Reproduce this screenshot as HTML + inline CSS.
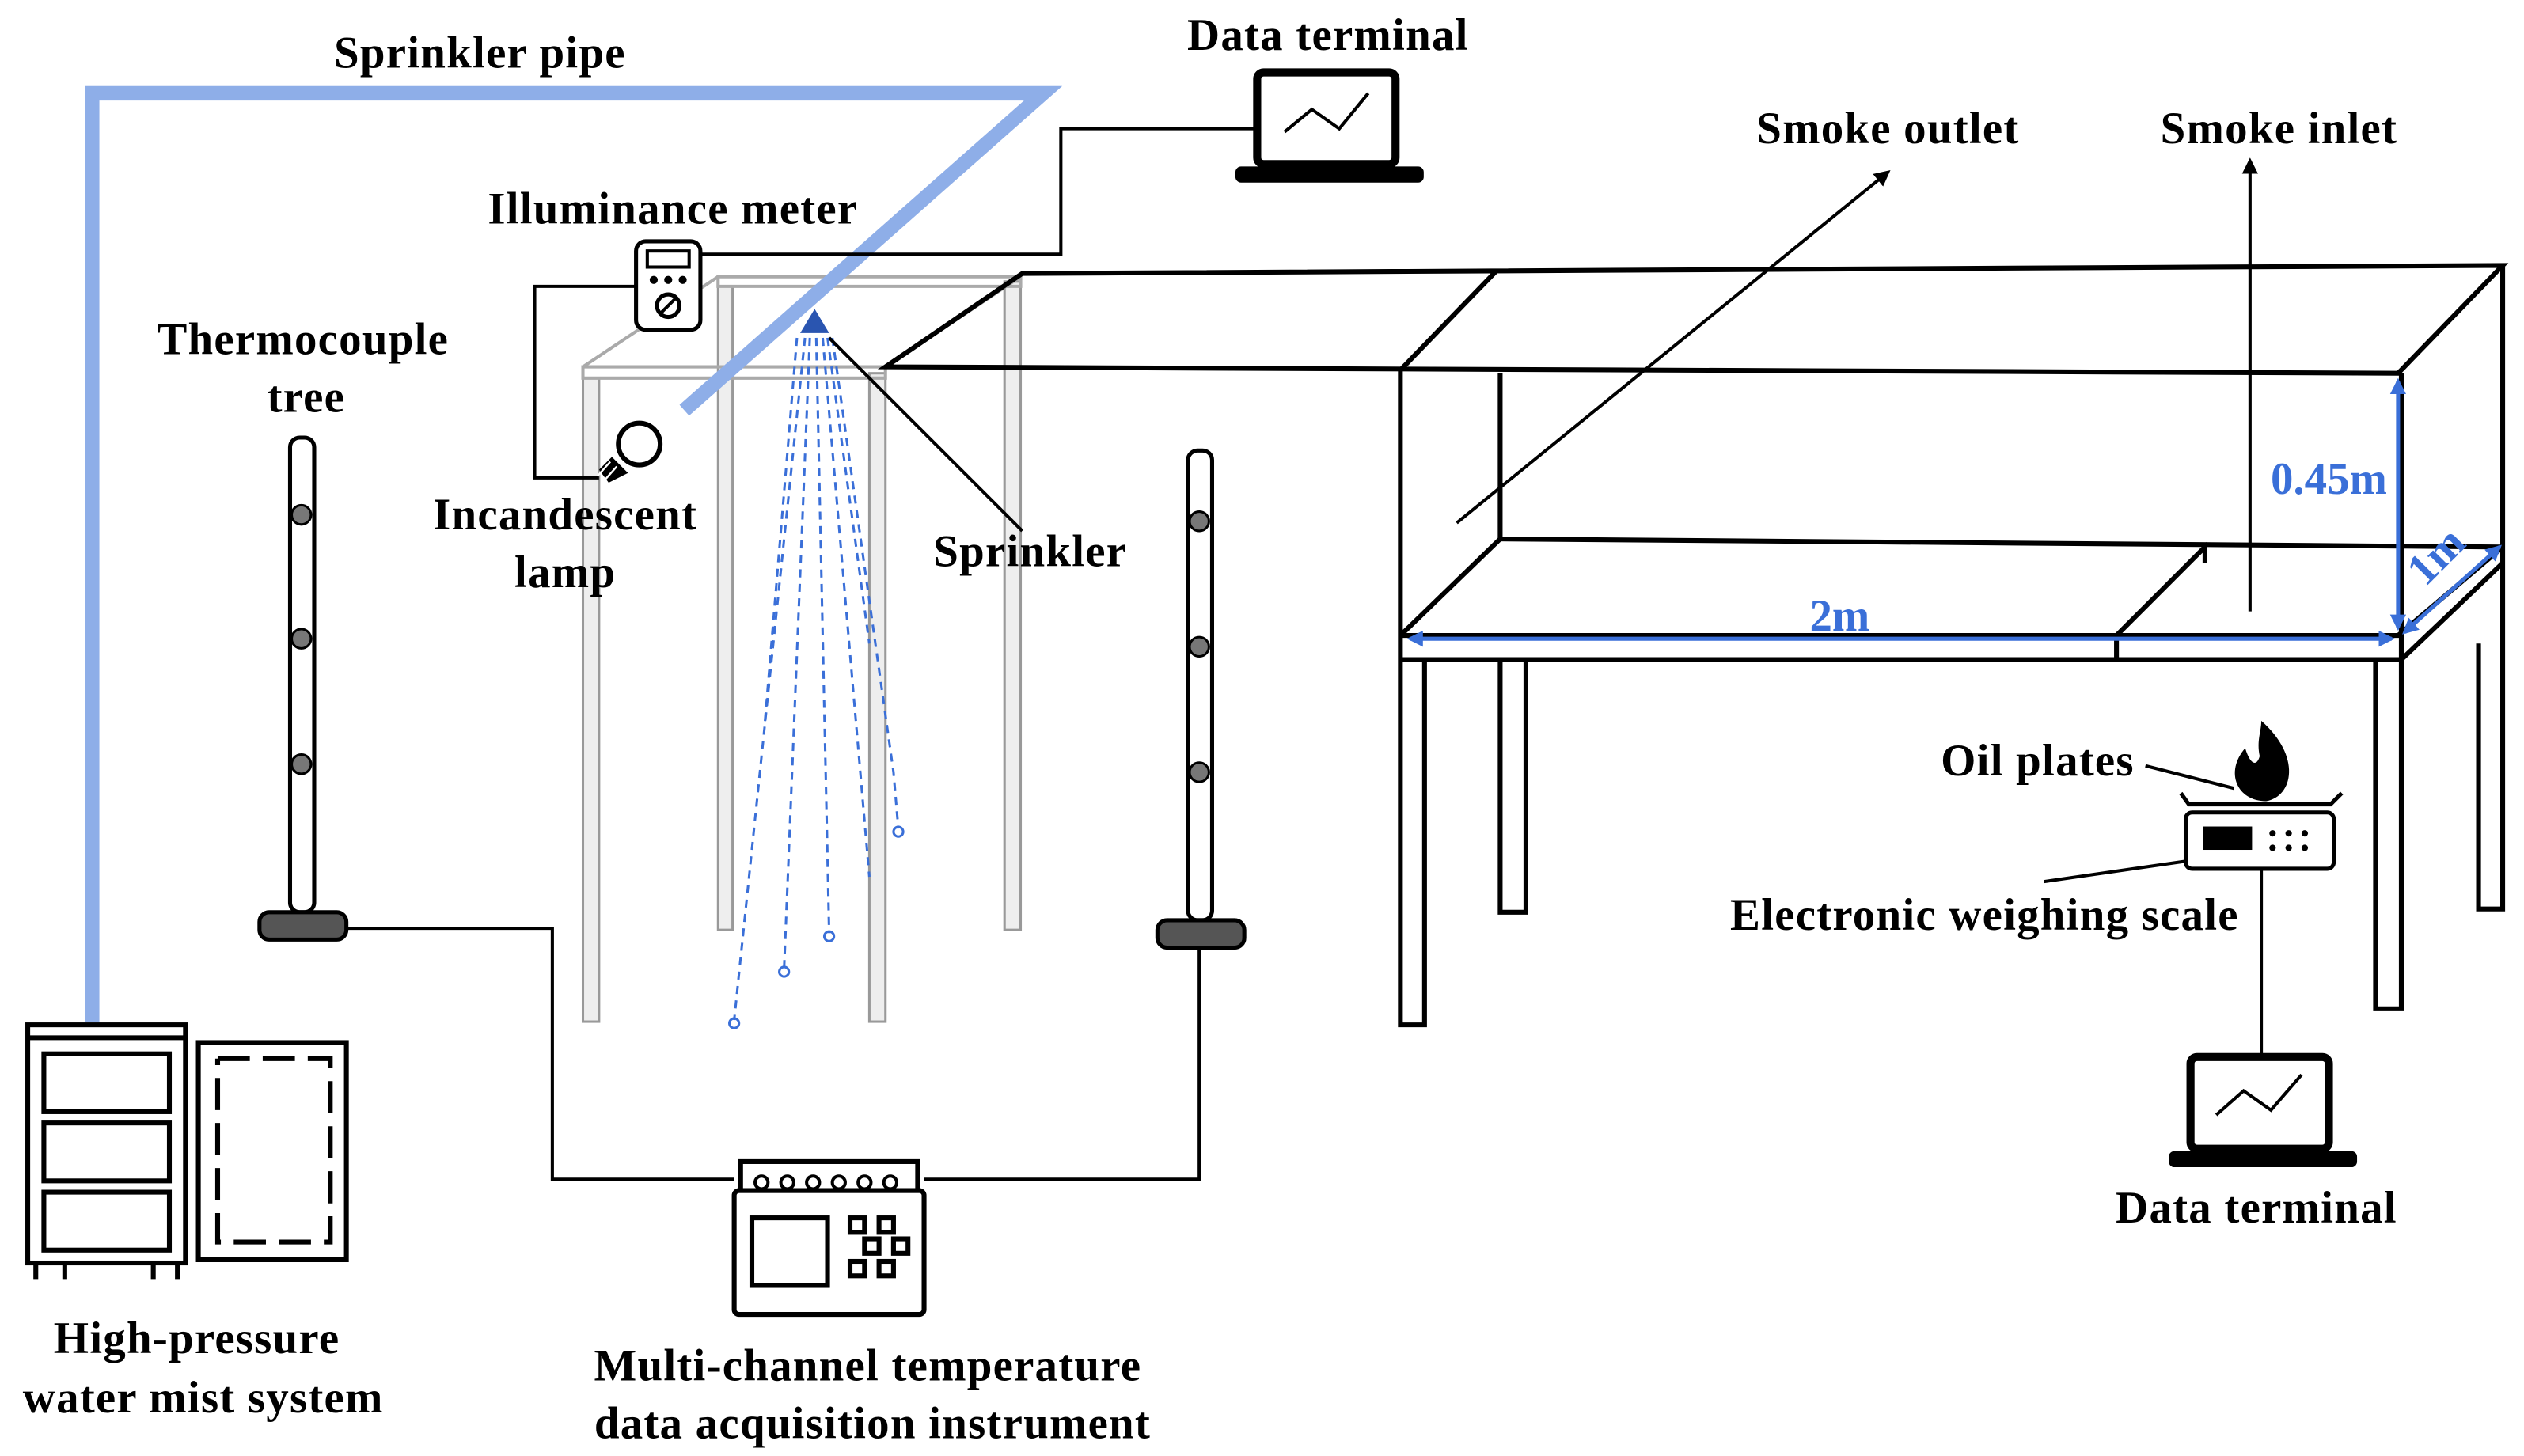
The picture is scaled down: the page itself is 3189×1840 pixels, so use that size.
<!DOCTYPE html>
<html><head><meta charset="utf-8"><style>
html,body{margin:0;padding:0;background:#fff;}
svg{display:block;}
text{font-family:"Liberation Serif",serif;font-weight:bold;font-size:28px;letter-spacing:0.6px;fill:#000;text-anchor:middle;}
.b{fill:#3a6fd8;letter-spacing:0;}
</style></head><body>
<svg width="3189" height="1840" viewBox="0 0 1568 905" xmlns="http://www.w3.org/2000/svg">
<defs>
<marker id="ak" markerWidth="10" markerHeight="10" refX="8" refY="5" orient="auto" markerUnits="userSpaceOnUse"><path d="M0,0 L10,5 L0,10 z" fill="#000"/></marker>
<marker id="ab" markerWidth="10" markerHeight="10" refX="8" refY="5" orient="auto-start-reverse" markerUnits="userSpaceOnUse"><path d="M0,0 L10,5 L0,10 z" fill="#3a6fd8"/></marker>
</defs>
<g fill="#eee" stroke="#999" stroke-width="1.5">
<rect x="446" y="178" width="9" height="400"/>
<rect x="624" y="175" width="10" height="403"/>
<rect x="362" y="235" width="10" height="400"/>
<rect x="540" y="232" width="10" height="403"/>
</g>
<g fill="none" stroke="#aaa" stroke-width="2">
<path d="M446,172 L634,172 L634,178 L446,178 Z"/>
<path d="M362,228 L550,228 L550,235 L362,235 Z"/>
<path d="M362,228 L446,172 M550,228 L634,172"/>
</g>
<path d="M57,635 L57,58 L648,58 L425,255" fill="none" stroke="#8eaee8" stroke-width="9"/>
<g stroke="#3a6fd8" stroke-width="1.5" stroke-dasharray="5,4" fill="none">
<path d="M500,210 L456,634"/><path d="M503,210 L487,602"/><path d="M507,210 L515,580"/>
<path d="M511,210 L540,545"/><path d="M514,210 L540,400"/><path d="M517,210 L555,480 L558,515"/>
<path d="M495,210 L475,450"/>
</g>
<g fill="none" stroke="#3a6fd8" stroke-width="1.5"><circle cx="456" cy="636" r="3"/><circle cx="487" cy="604" r="3"/><circle cx="515" cy="582" r="3"/><circle cx="558" cy="517" r="3"/></g>
<path d="M497,207 L506,192 L515,207 Z" fill="#2a55b0"/>
<line x1="515" y1="210" x2="635" y2="330" stroke="#000" stroke-width="2"/>
<g fill="none" stroke="#000" stroke-width="2">
<path d="M395,178 L332,178 L332,297 L372,297"/>
<path d="M435,158 L659,158 L659,80 L780,80"/>
<path d="M215,577 L343,577 L343,733 L456,733"/>
<path d="M745,590 L745,733 L574,733"/>
<path d="M1405,540 L1405,655"/>
<path d="M1333,476 L1388,490"/>
<path d="M1360,535 L1270,548"/>
</g>
<rect x="395" y="150" width="40" height="55" rx="6" fill="#fff" stroke="#000" stroke-width="2.5"/>
<rect x="402" y="156" width="26" height="10" fill="#fff" stroke="#000" stroke-width="2"/>
<circle cx="406" cy="174" r="2.5"/><circle cx="415" cy="174" r="2.5"/><circle cx="424" cy="174" r="2.5"/>
<circle cx="415" cy="190" r="7" fill="#fff" stroke="#000" stroke-width="2.5"/>
<line x1="410" y1="195" x2="420" y2="185" stroke="#000" stroke-width="2"/>
<circle cx="397" cy="276" r="13" fill="#fff" stroke="#000" stroke-width="3"/>
<path d="M380,284 L390,294 L378,300 L372,292 Z" fill="#000"/>
<path d="M379,287 L371,296 M383,290 L375,299" stroke="#fff" stroke-width="1.2"/>
<g stroke="#000" stroke-width="2.5" fill="#fff">
<rect x="180" y="272" width="15" height="295" rx="6"/>
<rect x="738" y="280" width="15" height="292" rx="6"/>
<rect x="161" y="567" width="54" height="17" rx="6" fill="#555"/>
<rect x="719" y="572" width="54" height="17" rx="6" fill="#555"/>
</g>
<g fill="#777" stroke="#000" stroke-width="1.5">
<circle cx="187" cy="320" r="6"/><circle cx="187" cy="397" r="6"/><circle cx="187" cy="475" r="6"/>
<circle cx="745" cy="324" r="6"/><circle cx="745" cy="402" r="6"/><circle cx="745" cy="480" r="6"/>
</g>
<g stroke="#000" fill="#fff">
<rect x="781" y="45" width="86" height="57" rx="4" stroke-width="5"/>
<rect x="768" y="104" width="116" height="9" rx="3" fill="#000"/>
<path d="M798,82 L815,68 L832,80 L850,58" fill="none" stroke-width="2"/>
<rect x="1361" y="657" width="86" height="57" rx="4" stroke-width="5"/>
<rect x="1348" y="716" width="116" height="9" rx="3" fill="#000"/>
<path d="M1377,693 L1394,678 L1411,690 L1430,668" fill="none" stroke-width="2"/>
</g>
<g fill="none" stroke="#000" stroke-width="3">
<path d="M550,228 L1490,232 L1555,165 L635,170 Z"/>
<path d="M930,168 L870,230"/>
<path d="M870,230 L870,637 L885,637 L885,410"/>
<path d="M932,232 L932,335 L1555,340"/>
<path d="M870,395 L932,335"/>
<path d="M870,395 L1490,395 L1555,340 M870,410 L1492,410 L1555,350"/>
<path d="M1555,165 L1555,565 L1540,565 L1540,400"/>
<path d="M1315,395 L1370,340 L1370,350"/>
<path d="M1315,395 L1315,410"/>
<path d="M1492,232 L1492,410"/>
<path d="M932,410 L932,567 L948,567 L948,410"/>
<path d="M1476,410 L1476,627 L1492,627 L1492,410"/>
</g>
<line x1="905" y1="325" x2="1173" y2="107" stroke="#000" stroke-width="2" marker-end="url(#ak)"/>
<line x1="1398" y1="380" x2="1398" y2="100" stroke="#000" stroke-width="2" marker-end="url(#ak)"/>
<g stroke="#3a6fd8" stroke-width="2.5">
<line x1="1490" y1="237" x2="1490" y2="390" marker-start="url(#ab)" marker-end="url(#ab)"/>
<line x1="876" y1="397" x2="1486" y2="397" marker-start="url(#ab)" marker-end="url(#ab)"/>
<line x1="1494" y1="393" x2="1553" y2="340" marker-start="url(#ab)" marker-end="url(#ab)"/>
</g>
<g stroke="#000" stroke-width="2.5" fill="#fff">
<path d="M1355,493 L1360,500 L1448,500 L1455,493" fill="none"/>
<rect x="1358" y="505" width="92" height="35" rx="4"/>
<rect x="1370" y="515" width="28" height="12" fill="#000"/>
</g>
<g fill="#000"><circle cx="1412" cy="518" r="2"/><circle cx="1422" cy="518" r="2"/><circle cx="1432" cy="518" r="2"/><circle cx="1412" cy="527" r="2"/><circle cx="1422" cy="527" r="2"/><circle cx="1432" cy="527" r="2"/></g>
<path d="M1405,448 C1430,470 1425,495 1408,498 C1390,498 1382,480 1395,465 C1398,475 1402,477 1404,470 C1402,460 1405,455 1405,448 Z" fill="#000"/>
<g stroke="#000" stroke-width="3" fill="#fff">
<rect x="17" y="637" width="98" height="148"/>
<rect x="27" y="655" width="78" height="36"/>
<rect x="27" y="698" width="78" height="36"/>
<rect x="27" y="741" width="78" height="36"/>
<line x1="17" y1="645" x2="115" y2="645"/>
<rect x="123" y="648" width="92" height="135"/>
<path d="M135,658 L205,658 L205,772 L135,772 L135,658" stroke-dasharray="20,8"/>
<path d="M22,785 L22,795 M40,785 L40,795 M95,785 L95,795 M110,785 L110,795"/>
</g>
<g stroke="#000" stroke-width="3" fill="#fff">
<rect x="456" y="740" width="118" height="77" rx="3"/>
<rect x="460" y="722" width="110" height="18"/>
<rect x="467" y="757" width="47" height="42"/>
<rect x="528" y="757" width="9" height="9"/><rect x="546" y="757" width="9" height="9"/>
<rect x="537" y="770" width="9" height="9"/><rect x="555" y="770" width="9" height="9"/>
<rect x="528" y="784" width="9" height="9"/><rect x="546" y="784" width="9" height="9"/>
</g>
<g fill="#fff" stroke="#000" stroke-width="2"><circle cx="473" cy="735" r="4"/><circle cx="489" cy="735" r="4"/><circle cx="505" cy="735" r="4"/><circle cx="521" cy="735" r="4"/><circle cx="537" cy="735" r="4"/><circle cx="553" cy="735" r="4"/></g>
<text x="298" y="42">Sprinkler pipe</text>
<text x="825" y="31">Data terminal</text>
<text x="418" y="139">Illuminance meter</text>
<text x="188" y="220">Thermocouple</text>
<text x="190" y="256">tree</text>
<text x="351" y="329">Incandescent</text>
<text x="351" y="365">lamp</text>
<text x="640" y="352">Sprinkler</text>
<text x="1173" y="89">Smoke outlet</text>
<text x="1416" y="89">Smoke inlet</text>
<text x="1447" y="307" class="b">0.45m</text>
<text x="1143" y="392" class="b">2m</text>
<text x="0" y="0" class="b" transform="translate(1520,352) rotate(-45)">1m</text>
<text x="1266" y="482">Oil plates</text>
<text x="1233" y="578">Electronic weighing scale</text>
<text x="1402" y="760">Data terminal</text>
<text x="122" y="841">High-pressure</text>
<text x="126" y="878">water mist system</text>
<text x="539" y="858">Multi-channel temperature</text>
<text x="542" y="894">data acquisition instrument</text>
</svg>
</body></html>
